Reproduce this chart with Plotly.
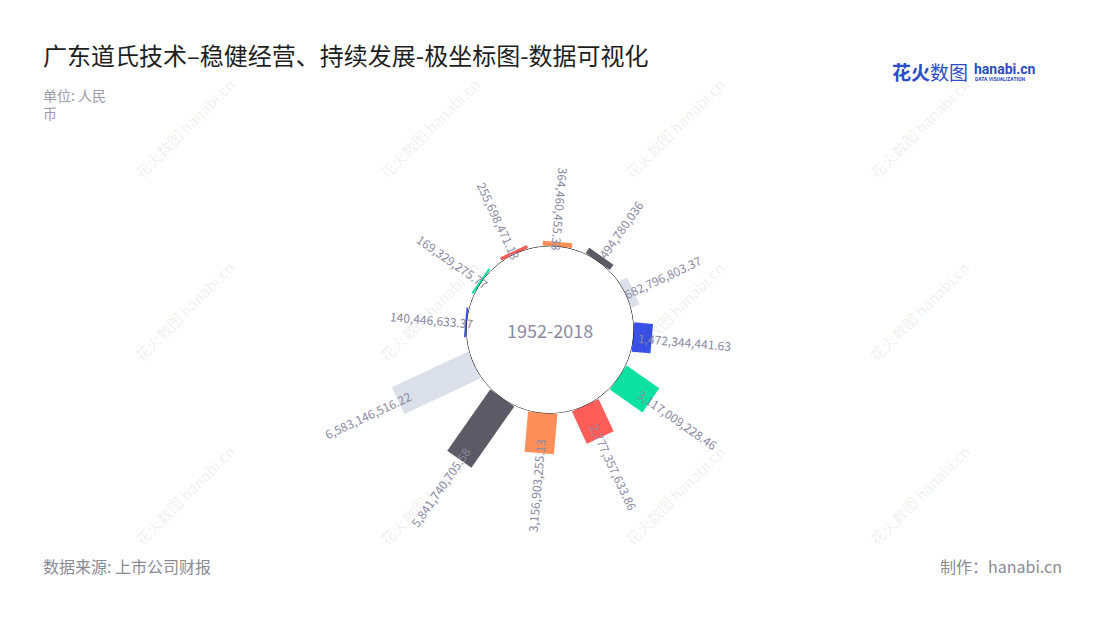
import math
import plotly.graph_objects as go

# ---------------- data ----------------
categories = ["2007", "2008", "2009", "2010", "2011", "2012",
              "2013", "2014", "2015", "2016", "2017", "2018"]
values = [140446633.37, 169329275.77, 255698471.18, 364460455.38,
          494780036, 682796803.37, 1472344441.63, 3117009228.46,
          2777357633.86, 3156903255.13, 5841740705.58, 6583146516.22]
palette = ["#3a50e8", "#0be2a1", "#ff5d58", "#ff8f58", "#5c5b65", "#dbe0ea"]
center_label = "1952-2018"
title_text = "广东道氏技术–稳健经营、持续发展-极坐标图-数据可视化"
unit_text = "单位: 人民<br>币"
source_text = "数据来源: 上市公司财报"
maker_text = "制作：hanabi.cn"

# ---------------- geometry / style ----------------
OFF = 8                          # page body margin
W, H = 1100 - 2 * OFF, 620 - 2 * OFF
CX, CY = 550.0 - OFF, 329.7 - OFF  # polar centre in figure px
R_OUT = 172.9                    # outer radius in px
R_IN = 83.3                      # hole radius in px
RMAX = 7e9
HOLE = R_IN / R_OUT
STEP = 360 / len(values)
ROTATION = 175
BAR_HALF_PX = 14.75
LABEL_OFFSET = 33
FONT = "Noto Sans CJK SC"
LABEL_COLOR = "#8a8aa3"

thetas = [i * STEP for i in range(len(values))]
colors = [palette[i % len(palette)] for i in range(len(values))]


def fmt(v):
    return f"{int(v):,}" if float(v).is_integer() else f"{v:,.2f}"


def r_px(v):
    return R_IN + v / RMAX * (R_OUT - R_IN)


def px_to_r(rp):
    return (rp - R_IN) / (R_OUT - R_IN) * RMAX


def scr(xs, ys):
    """screen px -> paper coords"""
    return (xs - OFF) / W, 1 - (ys - OFF) / H


def to_paper(r, phi_deg):
    ph = math.radians(phi_deg)
    x = CX + r * math.sin(ph)
    y = CY - r * math.cos(ph)
    return x / W, 1 - y / H


def norm(a):
    return (a + 180) % 360 - 180


fig = go.Figure()

# rectangular radial bars (constant pixel width), drawn on the polar scale
for cat, v, th, c in zip(categories, values, thetas, colors):
    r0, r1 = R_IN, r_px(v)
    pts_r, pts_t = [], []
    for rp, sgn in ((r0, -1), (r1, -1), (r1, 1), (r0, 1)):
        dist = math.hypot(rp, BAR_HALF_PX)
        dth = math.degrees(math.atan2(BAR_HALF_PX, rp)) * sgn
        pts_r.append(px_to_r(dist))
        pts_t.append(th + dth)
    pts_r.append(pts_r[0])
    pts_t.append(pts_t[0])
    fig.add_trace(go.Scatterpolar(
        r=pts_r, theta=pts_t, mode="lines", fill="toself",
        fillcolor=c, line=dict(width=0, color=c),
        name=cat, hoveron="fills", text=f"{cat}: {fmt(v)}", hoverinfo="text",
        cliponaxis=False, showlegend=False,
    ))

# inner circle drawn at r = 0 (hole edge)
circ_theta = list(range(0, 361, 2))
fig.add_trace(go.Scatterpolar(
    r=[0] * len(circ_theta), theta=circ_theta, mode="lines",
    line=dict(color="#000000", width=1), cliponaxis=False,
    hoverinfo="skip", showlegend=False,
))

annotations = []

# watermarks
for j in range(4):
    for k in range(3):
        x, y = scr(184 + 245 * j, 128 + 183.5 * k)
        annotations.append(dict(
            x=x, y=y, xref="paper", yref="paper", showarrow=False,
            text="花火数图 hanabi.cn", textangle=-45,
            font=dict(family=FONT, size=15, color="rgba(0,0,0,0.08)"),
            xanchor="center", yanchor="middle",
        ))

# value labels
for v, th in zip(values, thetas):
    phi = (90 - ROTATION + th) % 360
    ta = norm(phi - 90)
    if ta < -80 or ta > 90:
        ta = norm(ta + 180)
    x, y = to_paper(r_px(v) + LABEL_OFFSET, phi)
    annotations.append(dict(
        x=x, y=y, xref="paper", yref="paper", showarrow=False,
        text=fmt(v), textangle=ta,
        font=dict(family=FONT, size=12, color=LABEL_COLOR),
        xanchor="center", yanchor="middle",
    ))

# centre label
annotations.append(dict(
    x=CX / W, y=1 - CY / H, xref="paper", yref="paper", showarrow=False,
    text=center_label, font=dict(family=FONT, size=18, color="#8b8ba3"),
    xanchor="center", yanchor="middle",
))


def ann(xs, ys, text, size, color, xanchor="left", family=FONT, yanchor="middle"):
    x, y = scr(xs, ys)
    return dict(x=x, y=y, xref="paper", yref="paper", showarrow=False,
                text=text, xanchor=xanchor, yanchor=yanchor, align="left",
                font=dict(family=family, size=size, color=color))


annotations += [
    ann(41, 54, title_text, 24, "#1e1e1e"),
    ann(41, 104, unit_text, 14, "#9a9aa8"),
    ann(41, 566, source_text, 16, "#8a8a94"),
    ann(1064, 566, maker_text, 16, "#8a8a94", xanchor="right"),
    # logo
    ann(890, 71, "<b>花火</b>数图", 19, "#2b4bc8"),
    ann(972, 69, "<b>hanabi.cn</b>", 14, "#2b4bc8", family="Roboto"),
    ann(973, 79, "<b>DATA VISUALIZATION</b>", 5, "#2b4bc8", family="Roboto"),
]

fig.update_layout(
    width=W, height=H,
    margin=dict(l=0, r=0, t=0, b=0),
    paper_bgcolor="#ffffff", plot_bgcolor="#ffffff",
    showlegend=False,
    polar=dict(
        domain=dict(x=[(CX - R_OUT) / W, (CX + R_OUT) / W],
                    y=[1 - (CY + R_OUT) / H, 1 - (CY - R_OUT) / H]),
        hole=HOLE,
        bgcolor="rgba(0,0,0,0)",
        radialaxis=dict(visible=False, range=[0, RMAX], showgrid=False),
        angularaxis=dict(visible=False, rotation=ROTATION, direction="clockwise",
                         showgrid=False, thetaunit="degrees"),
    ),
    annotations=annotations,
)

fig.write_html("out.html")
